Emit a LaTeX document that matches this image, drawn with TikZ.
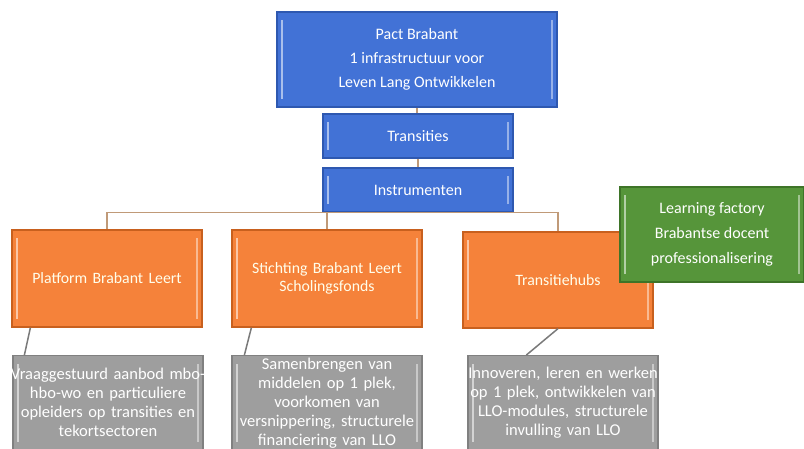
\documentclass[tikz,border=0pt]{standalone}
\usepackage{fontspec}
\setmainfont{Carlito}
\usetikzlibrary{calc}
\definecolor{blueF}{HTML}{4272D6}
\definecolor{blueD}{HTML}{2E58B0}
\definecolor{orangeF}{HTML}{F5823A}
\definecolor{orangeD}{HTML}{C8601E}
\definecolor{greenF}{HTML}{56953A}
\definecolor{greenD}{HTML}{3E7428}
\definecolor{grayF}{HTML}{9E9E9E}
\definecolor{grayD}{HTML}{808080}
\definecolor{linkO}{HTML}{C09A78}
\definecolor{linkG}{HTML}{7A7A7A}
\newcommand\gline[1]{\makebox[184pt][c]{#1}}
\tikzset{
  box/.style={rectangle, draw=#1D, line width=1.2pt, fill=#1F, align=center, inner sep=2pt,
    path picture={
      \draw[white, opacity=0.55, line width=1.6pt]
        ($(path picture bounding box.south west)+(5,-8)$) -- ($(path picture bounding box.north west)+(5,8)$);
      \draw[white, opacity=0.45, line width=1.6pt]
        ($(path picture bounding box.south east)+(-5,-8)$) -- ($(path picture bounding box.north east)+(-5,8)$);
    }},
  bluebox/.style={box=blue, text=white, font=\fontsize{16}{24}\selectfont},
  orangebox/.style={box=orange, text={white!92!yellow}, font=\fontsize{15.8}{18}\selectfont, minimum width=190pt, minimum height=97pt, text width=184pt},
  graybox/.style={box=gray, text=white, font=\fontsize{16.5}{19}\selectfont, minimum width=190pt, minimum height=94pt, text width=184pt, anchor=north},
  greenbox/.style={box=green, text=white, font=\fontsize{16}{25}\selectfont, minimum width=184pt, minimum height=95pt},
  linkor/.style={draw=linkO, line width=1.5pt},
  linkgr/.style={draw=linkG, line width=1.5pt},
}
\begin{document}
\begin{tikzpicture}[x=1pt,y=-1pt]
\fill[white] (0,0) rectangle (804,448);
\useasboundingbox (0,0) rectangle (804,448);
\clip (0,0) rectangle (804,448);
% nodes
\node[bluebox, minimum width=280pt, minimum height=95pt] (top) at (417,59.5) {Pact Brabant\\1 infrastructuur voor\\Leven Lang Ontwikkelen};
\node[bluebox, minimum width=190pt, minimum height=44pt] (trans) at (418,136) {Transities};
\node[bluebox, minimum width=190pt, minimum height=44pt] (instr) at (418,190) {Instrumenten};
\node[orangebox] (o1) at (107,278.5) {Platform Brabant Leert};
\node[orangebox] (o2) at (327,278.5) {Stichting Brabant Leert\\Scholingsfonds};
\node[orangebox, minimum height=96pt] (o3) at (558,280) {Transitiehubs};
\node[graybox] (g1) at (108,355) {\gline{Vraaggestuurd aanbod mbo-}\\\gline{hbo-wo en particuliere}\\\gline{opleiders op transities en}\\\gline{tekortsectoren}};
\node[graybox] (g2) at (327,355) {\gline{Samenbrengen van}\\\gline{middelen op 1 plek,}\\\gline{voorkomen van}\\\gline{versnippering, structurele}\\\gline{financiering van LLO}};
\node[graybox] (g3) at (563,355) {\gline{Innoveren, leren en werken}\\\gline{op 1 plek, ontwikkelen van}\\\gline{LLO-modules, structurele}\\\gline{invulling van LLO}};
\node[greenbox] (gr) at (712,234.5) {Learning factory\\Brabantse docent\\professionalisering};
% connectors
\draw[linkor] (top.south) -- (top.south |- trans.north);
\draw[linkor] (trans.south) -- (trans.south |- instr.north);
\draw[linkor] (instr.south) -| (o1.north);
\draw[linkor] (instr.south) -| (o2.north);
\draw[linkor] (instr.south) -| (o3.north);
\draw[linkgr] ($(o1.south west)+(19,0)$) -- ($(g1.north west)+(12,0)$);
\draw[linkgr] ($(o2.south west)+(20,0)$) -- ($(g2.north west)+(13,0)$);
\draw[linkgr] (o3.south) -- ($(g3.north west)+(59,0)$);
\end{tikzpicture}
\end{document}
